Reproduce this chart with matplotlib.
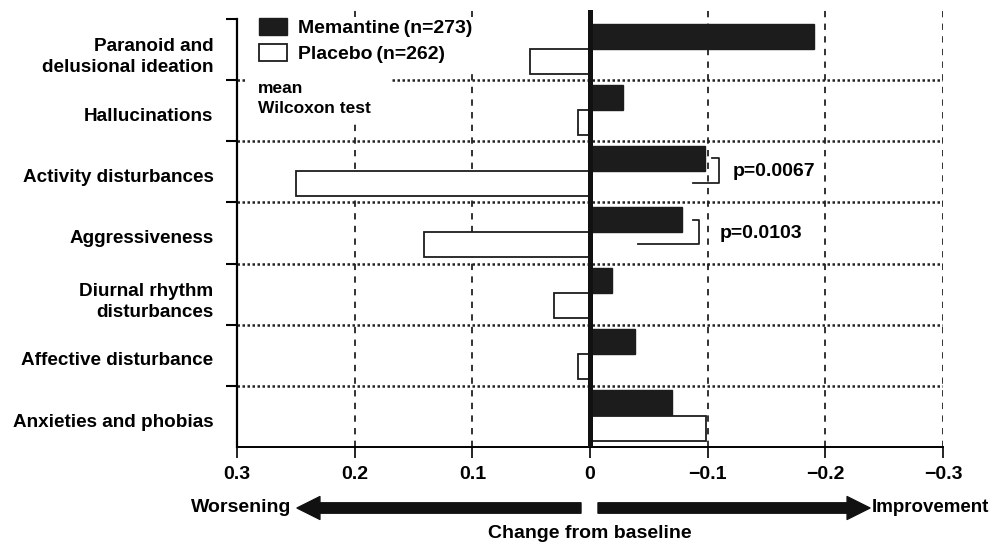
import matplotlib
matplotlib.use("Agg")
import matplotlib.pyplot as plt
from matplotlib.patches import Rectangle
import numpy as np

categories = ["Paranoid and\ndelusional ideation", "Hallucinations", "Activity disturbances",
              "Aggressiveness", "Diurnal rhythm\ndisturbances", "Affective disturbance",
              "Anxieties and phobias"]
memantine = [-0.19, -0.028, -0.098, -0.078, -0.019, -0.038, -0.070]
placebo = [0.051, 0.010, 0.250, 0.141, 0.031, 0.010, -0.099]
xticks = [0.3, 0.2, 0.1, 0.0, -0.1, -0.2, -0.3]
xticklabels = ["0.3", "0.2", "0.1", "0", "\u22120.1", "\u22120.2", "\u22120.3"]
p_rows = [2, 3]
p_texts = ["p=0.0067", "p=0.0103"]

FONT = ["Liberation Sans", "DejaVu Sans"]
plt.rcParams["font.family"] = FONT
plt.rcParams["font.weight"] = "bold"
FS = 14

fig = plt.figure(figsize=(9.95, 5.44), dpi=100)
ax = fig.add_axes([237/995, 1-447/544, 706/995, 437/544])

y = np.arange(len(categories))
h = 0.41
ax.barh(y - 0.22, memantine, height=h, color="#1c1c1c", edgecolor="#1c1c1c", lw=1.0,
        zorder=3, label="Memantine\u2009(n=273)")
ax.barh(y + 0.19, placebo, height=h, color="white", edgecolor="#1c1c1c", lw=1.3,
        zorder=3, label="Placebo\u2009(n=262)")

ax.set_xlim(0.3, -0.3)
ax.set_ylim(6.5, -0.5 - 9/61.1)

ax.set_xticks(xticks)
ax.set_xticklabels(xticklabels, fontsize=FS, fontweight="bold")
ax.set_yticks(y + 0.06)
ax.set_yticklabels(categories, fontsize=13.6, fontweight="bold", ha="right")
ax.set_yticks(np.arange(-0.5, 6.0, 1.0), minor=True)
ax.tick_params(axis="y", which="major", length=0, pad=17)
ax.tick_params(axis="y", which="minor", length=8, width=1.5, direction="out")
ax.tick_params(axis="x", which="major", length=8, width=1.2, direction="out", pad=6)
for t in ax.get_yticklabels():
    t.set_multialignment("right")
    t.set_linespacing(1.3)

for xv in [0.2, 0.1, -0.1, -0.2, -0.3]:
    ax.axvline(xv, color="#222222", lw=1.3, ls=(0, (3.5, 3.5)), zorder=1)
for yv in np.arange(0.5, 6.0, 1.0):
    ax.axhline(yv, color="#222222", lw=1.8, ls=(0, (1, 1)), zorder=1)

ax.axvline(0, color="#111111", lw=3.6, zorder=4)

for s in ["top", "right"]:
    ax.spines[s].set_visible(False)
ax.spines["left"].set_bounds(-0.5, 6.5)
ax.spines["left"].set_linewidth(1.6)
ax.spines["bottom"].set_linewidth(1.4)

# white cover behind legend / note
ax.add_patch(Rectangle((0.011, 0.748), 0.206, 0.235, transform=ax.transAxes,
                       facecolor="white", edgecolor="none", zorder=2))
ax.add_patch(Rectangle((0.011, 0.855), 0.33, 0.128, transform=ax.transAxes,
                       facecolor="white", edgecolor="none", zorder=2))

leg = ax.legend(loc="upper left", bbox_to_anchor=(0.031, 0.982), frameon=False,
                fontsize=FS, handlelength=1.45, handleheight=0.95, handletextpad=0.55,
                labelspacing=0.38, borderaxespad=0.0, borderpad=0.0)
for t in leg.get_texts():
    t.set_fontweight("bold")
leg.set_zorder(5)

ax.text(0.03, 0.797, "mean\nWilcoxon test", transform=ax.transAxes, fontsize=12.5,
        fontweight="bold", ha="left", va="center", linespacing=1.45, zorder=5)

# p-value brackets
p_text_x = [-0.121, -0.110]
p_bottom_x = [-0.0875, -0.041]
p_top_x = [-0.1037, -0.0875]
p_vert_x = [-0.1096, -0.0926]
for k, i in enumerate(p_rows):
    top = i - 0.22
    bot = i + 0.18
    ax.plot([p_top_x[k], p_vert_x[k], p_vert_x[k], p_bottom_x[k]], [top, top, bot, bot],
            color="#222222", lw=1.3, zorder=4)
    ax.text(p_text_x[k], i, p_texts[k], fontsize=FS, fontweight="bold",
            ha="left", va="center", zorder=5)

# bottom arrows and texts
ann = dict(xycoords="figure pixels", textcoords="figure pixels",
           arrowprops=dict(arrowstyle="simple,head_length=1.1,head_width=1.1,tail_width=0.5",
                           mutation_scale=15, color="#111111", shrinkA=0, shrinkB=0))
ax.annotate("", xy=(297, 36), xytext=(581, 36), **ann)
ax.annotate("", xy=(870, 36), xytext=(598, 36), **ann)
fig.text(291/995, 36/544, "Worsening", fontsize=FS, fontweight="bold", ha="right", va="center")
fig.text(872/995, 36/544, "Improvement", fontsize=13.5, fontweight="bold", ha="left", va="center")
fig.text(590/995, 10/544, "Change from baseline", fontsize=FS, fontweight="bold",
         ha="center", va="center")

fig.savefig("out.png", dpi=100)
